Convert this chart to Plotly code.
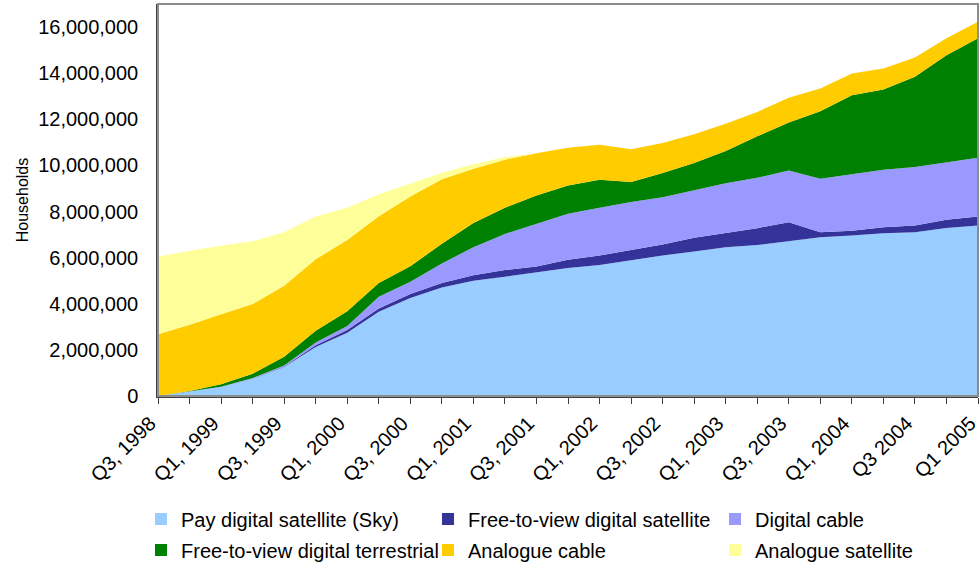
import plotly.graph_objects as go

quarters = ["Q3, 1998", "Q4, 1998", "Q1, 1999", "Q2, 1999", "Q3, 1999", "Q4, 1999",
            "Q1, 2000", "Q2, 2000", "Q3, 2000", "Q4, 2000", "Q1, 2001", "Q2, 2001",
            "Q3, 2001", "Q4, 2001", "Q1, 2002", "Q2, 2002", "Q3, 2002", "Q4, 2002",
            "Q1, 2003", "Q2, 2003", "Q3, 2003", "Q4, 2003", "Q1, 2004", "Q2, 2004",
            "Q3 2004", "Q4 2004", "Q1 2005"]
tick_labels = ["Q3, 1998", "", "Q1, 1999", "", "Q3, 1999", "", "Q1, 2000", "", "Q3, 2000", "",
               "Q1, 2001", "", "Q3, 2001", "", "Q1, 2002", "", "Q3, 2002", "", "Q1, 2003", "",
               "Q3, 2003", "", "Q1, 2004", "", "Q3 2004", "", "Q1 2005"]

# households (thousands)
pay_sat_sky = [0, 190, 390, 750, 1260, 2130, 2740, 3650, 4250, 4700, 5000, 5170, 5360, 5550,
               5680, 5900, 6090, 6270, 6450, 6550, 6700, 6880, 6960, 7060, 7100, 7290, 7390]
ftv_sat = [0, 0, 0, 10, 20, 70, 120, 150, 170, 200, 240, 290, 260, 360,
           410, 430, 480, 590, 610, 730, 840, 220, 210, 260, 290, 350, 390]
digital_cable = [0, 0, 10, 20, 40, 120, 180, 500, 530, 850, 1210, 1570, 1840, 1990,
                 2070, 2080, 2050, 2080, 2170, 2180, 2240, 2320, 2440, 2490, 2540, 2500, 2550]
ftv_dtt = [0, 30, 110, 190, 380, 510, 630, 600, 680, 850, 1050, 1130, 1240, 1230,
           1220, 870, 1050, 1160, 1390, 1800, 2080, 2930, 3430, 3480, 3910, 4640, 5180]
analogue_cable = [2680, 2870, 3040, 3020, 3080, 3100, 3100, 2900, 3020, 2800, 2350, 2090, 1830, 1640,
                  1520, 1420, 1300, 1250, 1190, 1060, 1070, 990, 950, 910, 840, 730, 720]
analogue_sat = [3360, 3210, 2970, 2720, 2320, 1850, 1390, 950, 550, 280, 200, 110, 0, 0,
                0, 0, 0, 0, 0, 0, 0, 0, 0, 0, 0, 0, 0]

series = [
    ("Pay digital satellite (Sky)", pay_sat_sky, "#99CCFF", "legend"),
    ("Free-to-view digital satellite", ftv_sat, "#333399", "legend"),
    ("Digital cable", digital_cable, "#9999FF", "legend"),
    ("Free-to-view digital terrestrial", ftv_dtt, "#008000", "legend2"),
    ("Analogue cable", analogue_cable, "#FFCC00", "legend2"),
    ("Analogue satellite", analogue_sat, "#FFFF99", "legend2"),
]

FONT = "Liberation Sans, Arial, sans-serif"
FS = 20
fig = go.Figure()
for name, vals, color, _ in series:
    fig.add_trace(go.Scatter(
        x=quarters, y=[v * 1000 for v in vals], name=name, stackgroup="one",
        mode="lines", line=dict(width=0, color=color), fillcolor=color,
        showlegend=False, hoverinfo="x+y+name"))
for name, vals, color, leg in series:
    fig.add_trace(go.Scatter(
        x=[None], y=[None], name=name, mode="markers",
        marker=dict(symbol="square", size=12, color=color),
        legend=leg, showlegend=True))

W, H = 979, 567
L, R, T, B = 158, 1, 4, 171
pw, ph = W - L - R, H - T - B

def py(pix):
    return (H - B - pix) / ph

def px(pix):
    return (pix - L) / pw

legend_common = dict(orientation="h", xanchor="left", yanchor="middle", traceorder="normal",
                     font=dict(family=FONT, size=FS, color="#000"),
                     entrywidth=242, entrywidthmode="pixels",
                     bgcolor="rgba(0,0,0,0)", borderwidth=0, itemclick=False)

fig.update_layout(
    width=W, height=H,
    margin=dict(l=L, r=R, t=T, b=B, autoexpand=False),
    paper_bgcolor="white", plot_bgcolor="white",
    font=dict(family=FONT, size=FS, color="#000"),
    xaxis=dict(type="category", range=[0, len(quarters) - 1],
               tickmode="array", tickvals=quarters, ticktext=tick_labels,
               tickangle=-45, ticks="outside", ticklen=6, tickcolor="#404040",
               ticklabelshift=-8,
               showline=True, linecolor="#404040", linewidth=1.5,
               showgrid=False, zeroline=False, automargin=False,
               tickfont=dict(family=FONT, size=FS, color="#000")),
    yaxis=dict(range=[0, 17000000], tickmode="linear", tick0=0, dtick=2000000,
               tickformat=",d", ticks="", showline=True, linecolor="#404040", linewidth=1.5,
               showgrid=False, zeroline=False, automargin=False, ticklabelstandoff=14,
               tickfont=dict(family=FONT, size=FS, color="#000"),
               title=dict(text="Households", font=dict(family=FONT, size=16, color="#000"),
                          standoff=6)),
    legend=dict(x=px(141), y=py(519), **legend_common),
    legend2=dict(x=px(141), y=py(550), **legend_common),
    shapes=[dict(type="rect", xref="paper", yref="paper", x0=0, x1=1, y0=0, y1=1,
                 line=dict(color="#8c8c8c", width=2), layer="above")],
)

fig.write_html("out.html", config={"displayModeBar": False},
               post_script="document.body.style.margin='0';document.body.style.overflow='hidden';")
